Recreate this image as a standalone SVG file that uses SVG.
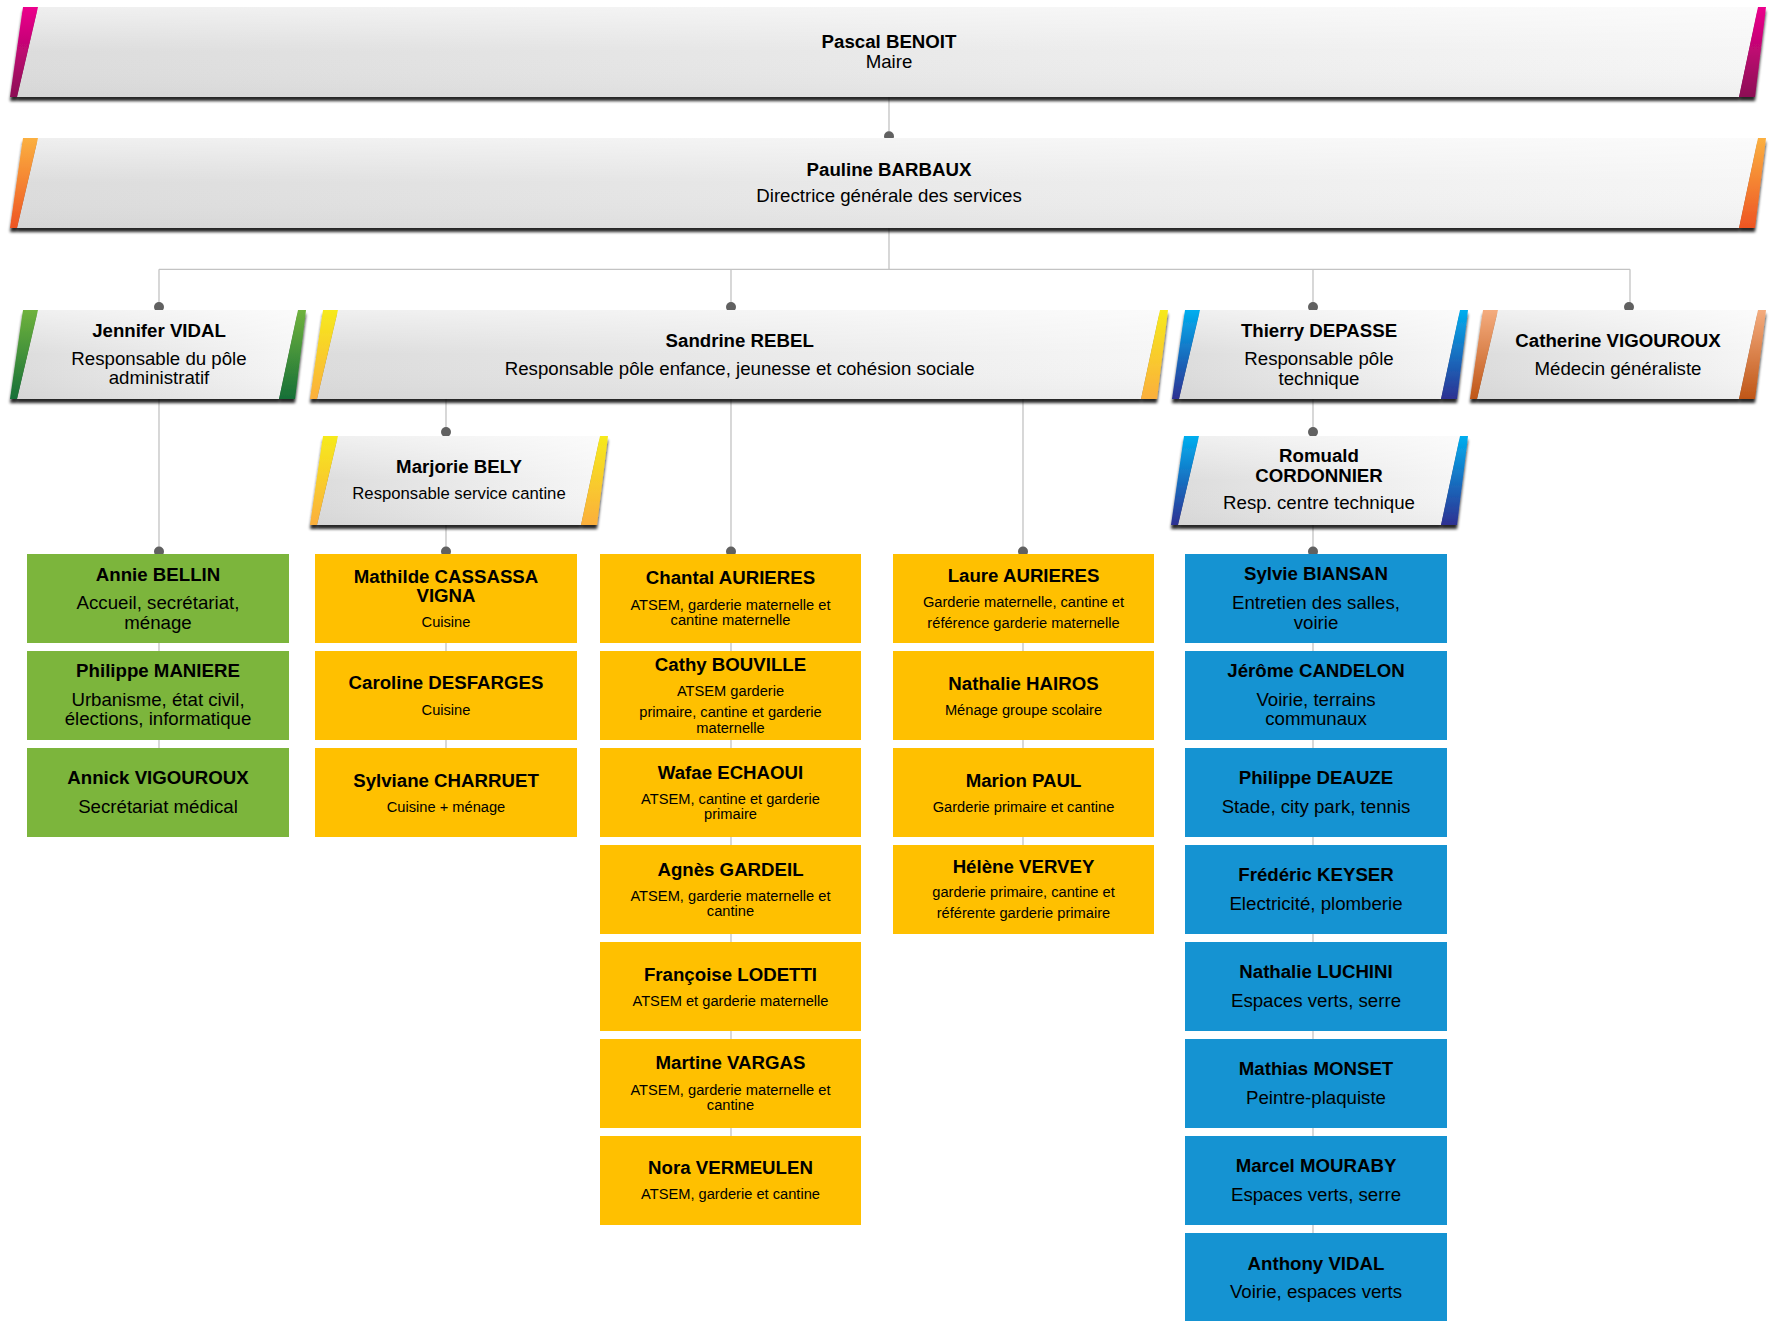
<svg xmlns="http://www.w3.org/2000/svg" width="1777" height="1321" viewBox="0 0 1777 1321">
<defs>
<style>
text{font-family:"Liberation Sans",Arial,sans-serif;text-anchor:middle;fill:#000}
.nm{font-weight:bold;font-size:18.67px}
.sb{font-size:18.67px}
.ss{font-size:14.67px}
.sm{font-size:16.7px}
.con{fill:none;stroke:#c3c3c3;stroke-width:1.3}
.dot{fill:#616161}
.body{fill:url(#bodyG)}
.gl{fill:url(#gloss)}
.g{fill:#7cb53c}
.y{fill:#ffc000}
.b{fill:#1593d2}
</style>
<linearGradient id="bodyG" x1="0" y1="0" x2="1" y2="0">
<stop offset="0" stop-color="#dcdcdc"/><stop offset="1" stop-color="#f6f6f6"/>
</linearGradient>
<linearGradient id="gloss" x1="0" y1="0" x2="0" y2="1">
<stop offset="0" stop-color="#fff" stop-opacity="0.55"/><stop offset="0.5" stop-color="#fff" stop-opacity="0"/><stop offset="1" stop-color="#000" stop-opacity="0.03"/>
</linearGradient>
<linearGradient id="pink" x1="0" y1="0" x2="0" y2="1"><stop offset="0" stop-color="#ec008c"/><stop offset="1" stop-color="#8c0f55"/></linearGradient>
<linearGradient id="orng" x1="0" y1="0" x2="0" y2="1"><stop offset="0" stop-color="#fbb040"/><stop offset="1" stop-color="#ee5523"/></linearGradient>
<linearGradient id="grn" x1="0" y1="0" x2="0" y2="1"><stop offset="0" stop-color="#6fb23c"/><stop offset="1" stop-color="#167038"/></linearGradient>
<linearGradient id="yel" x1="0" y1="0" x2="0" y2="1"><stop offset="0" stop-color="#f6ea1c"/><stop offset="1" stop-color="#fbaf3c"/></linearGradient>
<linearGradient id="blu" x1="0" y1="0" x2="0" y2="1"><stop offset="0" stop-color="#00aeef"/><stop offset="1" stop-color="#2e3192"/></linearGradient>
<linearGradient id="sal" x1="0" y1="0" x2="0" y2="1"><stop offset="0" stop-color="#f4ac7e"/><stop offset="1" stop-color="#bf5617"/></linearGradient>
<filter id="sh" x="-3%" y="-20%" width="106%" height="150%">
<feGaussianBlur in="SourceAlpha" stdDeviation="1.8"/>
<feOffset dy="3.5" result="o"/>
<feComponentTransfer><feFuncA type="linear" slope="0.85"/></feComponentTransfer>
<feMerge><feMergeNode/><feMergeNode in="SourceGraphic"/></feMerge>
</filter>
</defs>
<rect width="1777" height="1321" fill="#fff"/>

<g id="connectors">
<path class="con" d="M889 97V138M889 228V269.3M159 269.3H1630M159 269.3V310M731 269.3V310M1313 269.3V310M1630 269.3V310"/>
<path class="con" d="M159 399V792M446 399V436M446 525V792M731 399V1180M1023 399V890M1313 399V436M1313 525V1280"/>
<circle class="dot" cx="889" cy="136.3" r="5"/>
<circle class="dot" cx="159" cy="307" r="5"/>
<circle class="dot" cx="731" cy="307" r="5"/>
<circle class="dot" cx="1313" cy="307" r="5"/>
<circle class="dot" cx="1629" cy="307" r="5"/>
<circle class="dot" cx="446" cy="432" r="5"/>
<circle class="dot" cx="1313" cy="432" r="5"/>
<circle class="dot" cx="159" cy="551.5" r="5"/>
<circle class="dot" cx="446" cy="551.5" r="5"/>
<circle class="dot" cx="731" cy="551.5" r="5"/>
<circle class="dot" cx="1023" cy="551.5" r="5"/>
<circle class="dot" cx="1313" cy="551.5" r="5"/>
</g>

<g id="pascal">
<g filter="url(#sh)">
<polygon class="body" points="38,7 1758,7 1739,97 17,97"/>
<polygon class="gl" points="38,7 1758,7 1739,97 17,97"/>
<polygon fill="url(#pink)" points="23,7 38,7 17,97 10,97"/>
<polygon fill="url(#pink)" points="1758,7 1766,7 1755,97 1739,97"/>
</g>
<text class="nm" x="889" y="48.3">Pascal BENOIT</text>
<text class="sb" x="889" y="67.7">Maire</text>
</g>

<g id="pauline">
<g filter="url(#sh)">
<polygon class="body" points="38,138 1758,138 1739,228 17,228"/>
<polygon class="gl" points="38,138 1758,138 1739,228 17,228"/>
<polygon fill="url(#orng)" points="23,138 38,138 17,228 10,228"/>
<polygon fill="url(#orng)" points="1758,138 1766,138 1755,228 1739,228"/>
</g>
<text class="nm" x="889" y="175.7">Pauline BARBAUX</text>
<text class="sb" x="889" y="202.3">Directrice générale des services</text>
</g>

<g id="jennifer">
<g filter="url(#sh)">
<polygon class="body" points="38,310 298,310 279,399 17,399"/>
<polygon class="gl" points="38,310 298,310 279,399 17,399"/>
<polygon fill="url(#grn)" points="23,310 38,310 17,399 10,399"/>
<polygon fill="url(#grn)" points="298,310 306,310 295,399 279,399"/>
</g>
<text class="nm" x="159" y="336.7">Jennifer VIDAL</text>
<text class="sb" x="159" y="365">Responsable du pôle</text>
<text class="sb" x="159" y="384.3">administratif</text>
</g>

<g id="sandrine">
<g filter="url(#sh)">
<polygon class="body" points="338,310 1160,310 1141,399 317,399"/>
<polygon class="gl" points="338,310 1160,310 1141,399 317,399"/>
<polygon fill="url(#yel)" points="323,310 338,310 317,399 310,399"/>
<polygon fill="url(#yel)" points="1160,310 1168,310 1157,399 1141,399"/>
</g>
<text class="nm" x="739.7" y="346.7">Sandrine REBEL</text>
<text class="sb" x="739.7" y="375">Responsable pôle enfance, jeunesse et cohésion sociale</text>
</g>

<g id="thierry">
<g filter="url(#sh)">
<polygon class="body" points="1200,310 1460,310 1441,399 1179,399"/>
<polygon class="gl" points="1200,310 1460,310 1441,399 1179,399"/>
<polygon fill="url(#blu)" points="1185,310 1200,310 1179,399 1172,399"/>
<polygon fill="url(#blu)" points="1460,310 1468,310 1457,399 1441,399"/>
</g>
<text class="nm" x="1319" y="337">Thierry DEPASSE</text>
<text class="sb" x="1319" y="365">Responsable pôle</text>
<text class="sb" x="1319" y="384.5">technique</text>
</g>

<g id="catherine">
<g filter="url(#sh)">
<polygon class="body" points="1498,310 1758,310 1739,399 1477,399"/>
<polygon class="gl" points="1498,310 1758,310 1739,399 1477,399"/>
<polygon fill="url(#sal)" points="1483,310 1498,310 1477,399 1470,399"/>
<polygon fill="url(#sal)" points="1758,310 1766,310 1755,399 1739,399"/>
</g>
<text class="nm" x="1618" y="346.7">Catherine VIGOUROUX</text>
<text class="sb" x="1618" y="375">Médecin généraliste</text>
</g>

<g id="marjorie">
<g filter="url(#sh)">
<polygon class="body" points="338,436 600,436 581,525 317,525"/>
<polygon class="gl" points="338,436 600,436 581,525 317,525"/>
<polygon fill="url(#yel)" points="323,436 338,436 317,525 310,525"/>
<polygon fill="url(#yel)" points="600,436 608,436 597,525 581,525"/>
</g>
<text class="nm" x="459" y="472.7">Marjorie BELY</text>
<text class="sm" x="459" y="499">Responsable service cantine</text>
</g>

<g id="romuald">
<g filter="url(#sh)">
<polygon class="body" points="1199,436 1460,436 1441,525 1178,525"/>
<polygon class="gl" points="1199,436 1460,436 1441,525 1178,525"/>
<polygon fill="url(#blu)" points="1184,436 1199,436 1178,525 1171,525"/>
<polygon fill="url(#blu)" points="1460,436 1468,436 1457,525 1441,525"/>
</g>
<text class="nm" x="1319" y="461.7">Romuald</text>
<text class="nm" x="1319" y="481.7">CORDONNIER</text>
<text class="sb" x="1319" y="509.3">Resp. centre technique</text>
</g>

<g id="annie-bellin"><rect class="g" x="27" y="554" width="262" height="89"/>
<text class="nm" x="158" y="580.7">Annie BELLIN</text><text class="sb" x="158" y="609">Accueil, secrétariat,</text><text class="sb" x="158" y="629">ménage</text></g>
<g id="philippe-maniere"><rect class="g" x="27" y="651" width="262" height="89"/>
<text class="nm" x="158" y="677.3">Philippe MANIERE</text><text class="sb" x="158" y="705.7">Urbanisme, état civil,</text><text class="sb" x="158" y="725">élections, informatique</text></g>
<g id="annick-vigouroux"><rect class="g" x="27" y="748" width="262" height="89"/>
<text class="nm" x="158" y="784.3">Annick VIGOUROUX</text><text class="sb" x="158" y="812.7">Secrétariat médical</text></g>

<g id="mathilde-cassassa"><rect class="y" x="315" y="554" width="262" height="89"/>
<text class="nm" x="446" y="582.7">Mathilde CASSASSA</text><text class="nm" x="446" y="602.3">VIGNA</text><text class="ss" x="446" y="627.3">Cuisine</text></g>
<g id="caroline-desfarges"><rect class="y" x="315" y="651" width="262" height="89"/>
<text class="nm" x="446" y="689.3">Caroline DESFARGES</text><text class="ss" x="446" y="714.7">Cuisine</text></g>
<g id="sylviane-charruet"><rect class="y" x="315" y="748" width="262" height="89"/>
<text class="nm" x="446" y="786.7">Sylviane CHARRUET</text><text class="ss" x="446" y="811.7">Cuisine + ménage</text></g>

<g id="chantal-aurieres"><rect class="y" x="600" y="554" width="261" height="89"/>
<text class="nm" x="730.5" y="584.3">Chantal AURIERES</text><text class="ss" x="730.5" y="610">ATSEM, garderie maternelle et</text><text class="ss" x="730.5" y="625">cantine maternelle</text></g>
<g id="cathy-bouville"><rect class="y" x="600" y="651" width="261" height="89"/>
<text class="nm" x="730.5" y="670.7">Cathy BOUVILLE</text><text class="ss" x="730.5" y="696">ATSEM garderie</text><text class="ss" x="730.5" y="716.7">primaire, cantine et garderie</text><text class="ss" x="730.5" y="732.7">maternelle</text></g>
<g id="wafae-echaoui"><rect class="y" x="600" y="748" width="261" height="89"/>
<text class="nm" x="730.5" y="779">Wafae ECHAOUI</text><text class="ss" x="730.5" y="804">ATSEM, cantine et garderie</text><text class="ss" x="730.5" y="819">primaire</text></g>
<g id="agnes-gardeil"><rect class="y" x="600" y="845" width="261" height="89"/>
<text class="nm" x="730.5" y="875.7">Agnès GARDEIL</text><text class="ss" x="730.5" y="901">ATSEM, garderie maternelle et</text><text class="ss" x="730.5" y="915.7">cantine</text></g>
<g id="francoise-lodetti"><rect class="y" x="600" y="942" width="261" height="89"/>
<text class="nm" x="730.5" y="980.7">Françoise LODETTI</text><text class="ss" x="730.5" y="1005.7">ATSEM et garderie maternelle</text></g>
<g id="martine-vargas"><rect class="y" x="600" y="1039" width="261" height="89"/>
<text class="nm" x="730.5" y="1069">Martine VARGAS</text><text class="ss" x="730.5" y="1095">ATSEM, garderie maternelle et</text><text class="ss" x="730.5" y="1109.5">cantine</text></g>
<g id="nora-vermeulen"><rect class="y" x="600" y="1136" width="261" height="89"/>
<text class="nm" x="730.5" y="1174">Nora VERMEULEN</text><text class="ss" x="730.5" y="1199">ATSEM, garderie et cantine</text></g>

<g id="laure-aurieres"><rect class="y" x="893" y="554" width="261" height="89"/>
<text class="nm" x="1023.5" y="581.7">Laure AURIERES</text><text class="ss" x="1023.5" y="607.3">Garderie maternelle, cantine et</text><text class="ss" x="1023.5" y="628">référence garderie maternelle</text></g>
<g id="nathalie-hairos"><rect class="y" x="893" y="651" width="261" height="89"/>
<text class="nm" x="1023.5" y="689.7">Nathalie HAIROS</text><text class="ss" x="1023.5" y="714.7">Ménage groupe scolaire</text></g>
<g id="marion-paul"><rect class="y" x="893" y="748" width="261" height="89"/>
<text class="nm" x="1023.5" y="787">Marion PAUL</text><text class="ss" x="1023.5" y="811.7">Garderie primaire et cantine</text></g>
<g id="helene-vervey"><rect class="y" x="893" y="845" width="261" height="89"/>
<text class="nm" x="1023.5" y="872.7">Hélène VERVEY</text><text class="ss" x="1023.5" y="897.3">garderie primaire, cantine et</text><text class="ss" x="1023.5" y="918.3">référente garderie primaire</text></g>

<g id="sylvie-biansan"><rect class="b" x="1185" y="554" width="262" height="89"/>
<text class="nm" x="1316" y="580">Sylvie BIANSAN</text><text class="sb" x="1316" y="609">Entretien des salles,</text><text class="sb" x="1316" y="628.5">voirie</text></g>
<g id="jerome-candelon"><rect class="b" x="1185" y="651" width="262" height="89"/>
<text class="nm" x="1316" y="677">Jérôme CANDELON</text><text class="sb" x="1316" y="705.5">Voirie, terrains</text><text class="sb" x="1316" y="725">communaux</text></g>
<g id="philippe-deauze"><rect class="b" x="1185" y="748" width="262" height="89"/>
<text class="nm" x="1316" y="784">Philippe DEAUZE</text><text class="sb" x="1316" y="812.5">Stade, city park, tennis</text></g>
<g id="frederic-keyser"><rect class="b" x="1185" y="845" width="262" height="89"/>
<text class="nm" x="1316" y="881">Frédéric KEYSER</text><text class="sb" x="1316" y="909.5">Electricité, plomberie</text></g>
<g id="nathalie-luchini"><rect class="b" x="1185" y="942" width="262" height="89"/>
<text class="nm" x="1316" y="978">Nathalie LUCHINI</text><text class="sb" x="1316" y="1006.5">Espaces verts, serre</text></g>
<g id="mathias-monset"><rect class="b" x="1185" y="1039" width="262" height="89"/>
<text class="nm" x="1316" y="1075">Mathias MONSET</text><text class="sb" x="1316" y="1103.5">Peintre-plaquiste</text></g>
<g id="marcel-mouraby"><rect class="b" x="1185" y="1136" width="262" height="89"/>
<text class="nm" x="1316" y="1172">Marcel MOURABY</text><text class="sb" x="1316" y="1200.5">Espaces verts, serre</text></g>
<g id="anthony-vidal"><rect class="b" x="1185" y="1233" width="262" height="89"/>
<text class="nm" x="1316" y="1269.5">Anthony VIDAL</text><text class="sb" x="1316" y="1297.5">Voirie, espaces verts</text></g>
</svg>
